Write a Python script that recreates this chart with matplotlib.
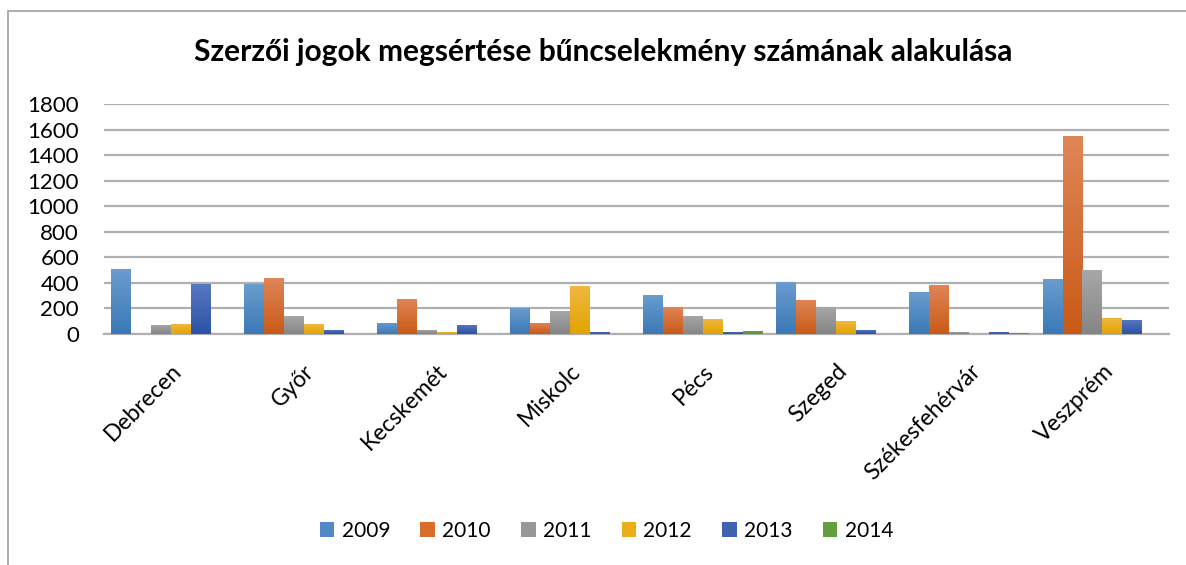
import matplotlib
matplotlib.use("Agg")
import matplotlib.pyplot as plt
import numpy as np
from matplotlib.patches import Rectangle, Patch
from matplotlib.colors import LinearSegmentedColormap

cities = ["Debrecen", "Győr", "Kecskemét", "Miskolc", "Pécs", "Szeged", "Székesfehérvár", "Veszprém"]
years = ["2009", "2010", "2011", "2012", "2013", "2014"]
v2009 = [510, 390, 88, 206, 307, 409, 331, 433]
v2010 = [3, 440, 276, 88, 213, 268, 386, 1553]
v2011 = [73, 143, 34, 182, 143, 213, 18, 504]
v2012 = [75, 75, 18, 378, 120, 104, 2, 126]
v2013 = [394, 34, 73, 18, 18, 34, 18, 110]
v2014 = [2, 2, 2, 2, 26, 2, 10, 0]
series = [v2009, v2010, v2011, v2012, v2013, v2014]
yticks = [0, 200, 400, 600, 800, 1000, 1200, 1400, 1600, 1800]

top_cols = ["#6b9dcd", "#e08658", "#a8a8a8", "#f0b843", "#5978c2", "#70a84c"]
bot_cols = ["#3a79b7", "#c95a16", "#858585", "#e2a300", "#2a53a6", "#589232"]
mid_cols = ["#4f8ac4", "#d86d2c", "#989898", "#eaae1a", "#3e63b3", "#62a03e"]

plt.rcParams['font.family'] = ['Lato', 'DejaVu Sans']

W, H = 1186, 565
fig = plt.figure(figsize=(W / 100, H / 100), dpi=100)
ax = fig.add_axes([104 / W, 1 - 334 / H, (1169 - 104) / W, (334 - 104) / H])

# outer frame
fig.patches.append(Rectangle((8 / W, -0.05), 1.2, 1 - 11 / H + 0.05, transform=fig.transFigure,
                             fill=False, edgecolor="#a0a0a0", linewidth=1.2))

n = len(years)
bw = 0.9 / n
x = np.arange(len(cities))
grad = np.linspace(0, 1, 100).reshape(-1, 1)
for i, (vals, tc, bc) in enumerate(zip(series, top_cols, bot_cols)):
    pos = x - 0.45 + bw * (i + 0.5)
    bars = ax.bar(pos, vals, width=bw, color=mid_cols[i], linewidth=0, zorder=3)
    cmap = LinearSegmentedColormap.from_list("g%d" % i, [bc, tc])
    for b in bars:
        h = b.get_height()
        if h <= 0:
            continue
        x0 = b.get_x()
        im = ax.imshow(grad, extent=[x0, x0 + b.get_width(), 0, h], origin="lower",
                       aspect="auto", cmap=cmap, zorder=3.5, interpolation="bilinear")
        im.set_clip_path(b)

ax.set_xlim(-0.5, len(cities) - 0.5)
ax.set_ylim(0, 1800)
ax.set_yticks(yticks)
ax.set_yticklabels([str(t) for t in yticks], fontsize=16)
ax.set_xticks(x)
ax.set_xticklabels(cities, rotation=45, ha="right", rotation_mode="anchor", fontsize=16.5)
ax.tick_params(axis="both", length=0)
ax.tick_params(axis="y", pad=18)
ax.tick_params(axis="x", pad=19)
ax.grid(axis="y", color="#b0b0b0", linewidth=1.6, zorder=0)
ax.set_axisbelow(True)
for s in ["top", "right", "left"]:
    ax.spines[s].set_visible(False)
ax.spines["bottom"].set_color("#b0b0b0")
ax.spines["bottom"].set_linewidth(1.6)

fig.text(0.5 * (196 + 1010) / W, 1 - 52 / H, "Szerzői jogok megsértése bűncselekmény számának alakulása",
         ha="center", va="center", fontsize=21.5, fontweight="bold")

handles = [Patch(facecolor=c, edgecolor="none") for c in mid_cols]
fig.legend(handles, years, loc="center", bbox_to_anchor=(0.5 * (323 + 890) / W, 1 - 531 / H),
           ncol=6, frameon=False, fontsize=15, handlelength=0.7, handleheight=0.7,
           handletextpad=0.35, columnspacing=1.45)

fig.savefig("out.png", dpi=100, facecolor="white")
